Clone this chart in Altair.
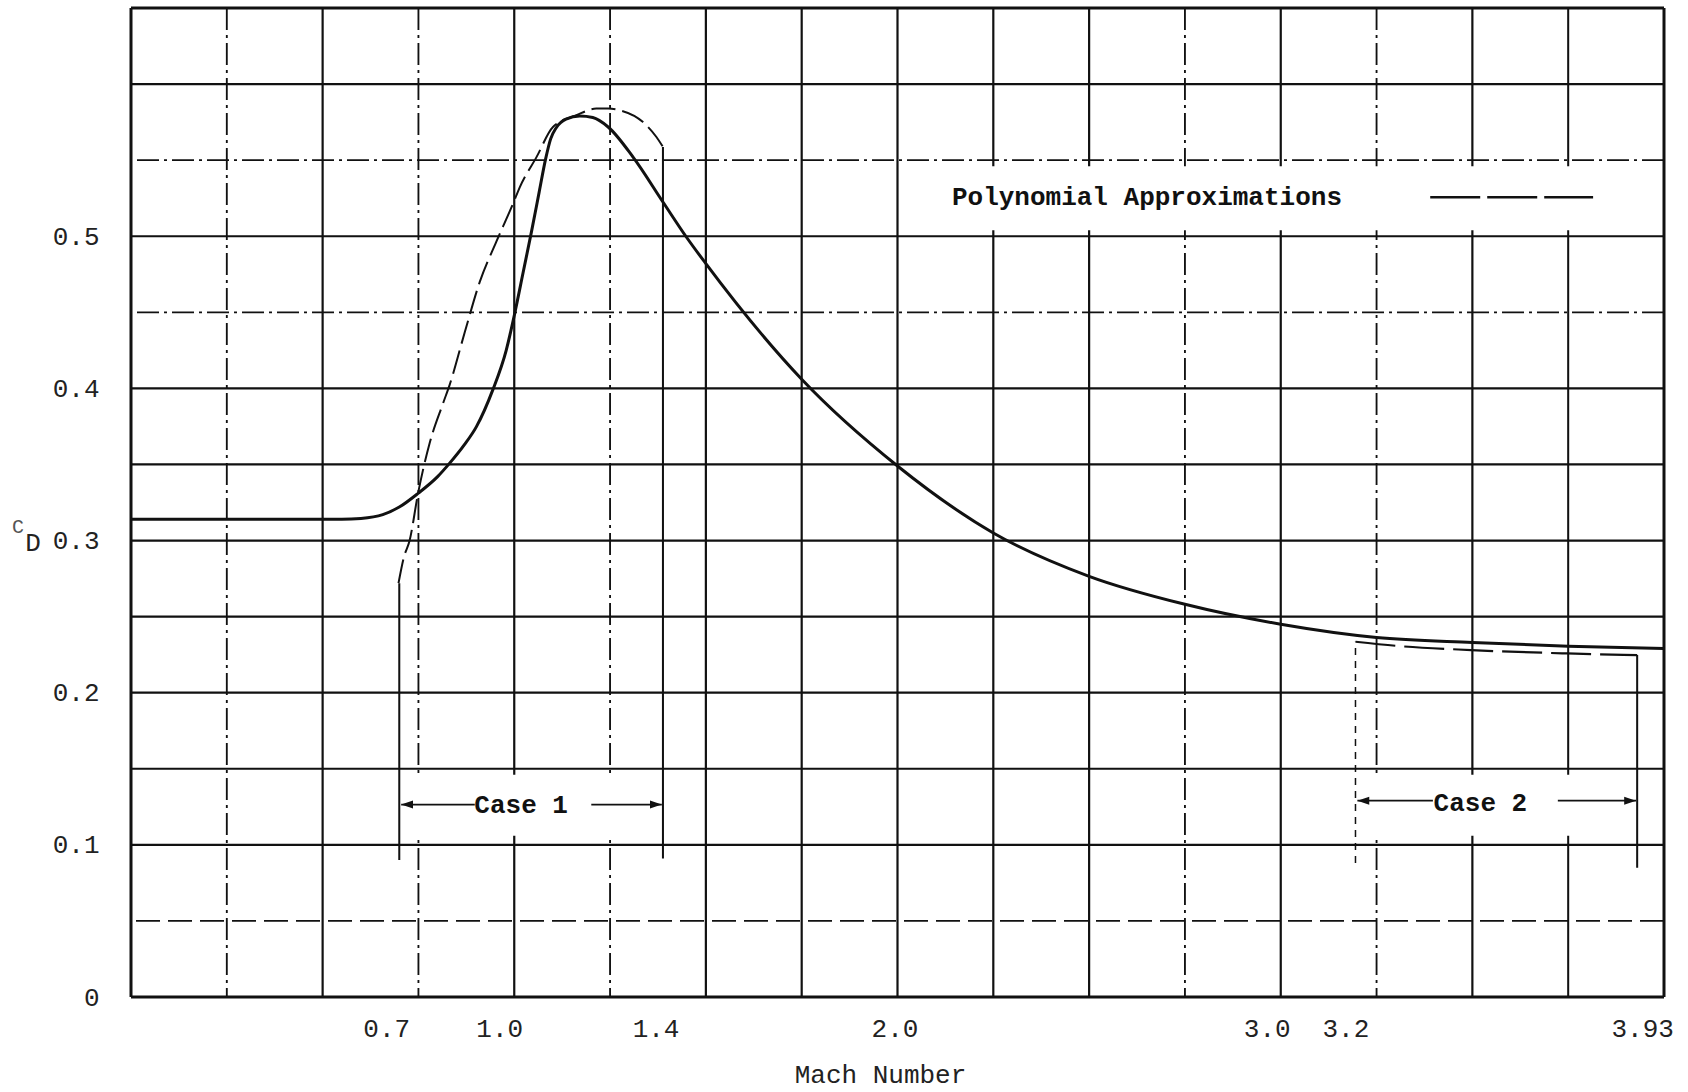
import altair as alt
import pandas as pd

# ---------------- data ----------------
# measured drag coefficient curve (solid)
mach_solid = [0.0, 0.3, 0.55, 0.6, 0.657, 0.70, 0.749, 0.80, 0.831, 0.87, 0.901, 0.944, 0.979, 1.001,
              1.023, 1.045, 1.065, 1.082, 1.095, 1.11, 1.135, 1.171, 1.205, 1.245, 1.310, 1.388, 1.449,
              1.5, 1.75, 2.0, 2.25, 2.5, 2.75, 3.0, 3.25, 3.5, 3.75, 4.0]
cd_solid = [0.314, 0.314, 0.314, 0.3145, 0.317, 0.322, 0.331, 0.342, 0.3507, 0.363, 0.3747, 0.399, 0.425,
            0.449, 0.476, 0.503, 0.529, 0.551, 0.564, 0.5715, 0.577, 0.579, 0.578, 0.5718, 0.552, 0.5225,
            0.4995, 0.482, 0.406, 0.349, 0.305, 0.2765, 0.2581, 0.245, 0.2363, 0.233, 0.2306, 0.229]

# polynomial approximations (dashed)
mach_case1 = [0.698, 0.712, 0.727, 0.749, 0.779, 0.814, 0.831, 0.871, 0.910, 0.953, 0.997, 1.014, 1.058,
              1.101, 1.162, 1.214, 1.245, 1.275, 1.336, 1.371, 1.388]
cd_case1 = [0.272, 0.289, 0.300, 0.331, 0.3638, 0.390, 0.402, 0.437, 0.470, 0.4963, 0.5215, 0.532, 0.552,
            0.5718, 0.5795, 0.5839, 0.5839, 0.5828, 0.575, 0.5652, 0.5587]
mach_case2 = [3.195, 3.31, 3.497, 3.747, 3.93]
cd_case2 = [0.2335, 0.2306, 0.228, 0.2258, 0.2247]

# axis ticks
x_tick_values = [0.7, 1.0, 1.4, 2.0, 3.0, 3.2, 3.93]
y_tick_values = [0.0, 0.1, 0.2, 0.3, 0.4, 0.5]

# grid of the graph paper
vgrid_mach = [0.25, 0.5, 0.75, 1.0, 1.25, 1.5, 1.75, 2.0, 2.25, 2.5, 2.75, 3.0, 3.25, 3.5, 3.75]
vgrid_style = ["dashdot", "solid", "dashdot", "solid", "dashdot", "solid", "solid", "solid", "solid",
               "solid", "dashdot", "solid", "dashdot", "solid", "thin"]
hgrid_cd = [0.05, 0.1, 0.15, 0.2, 0.25, 0.3, 0.35, 0.4, 0.45, 0.5, 0.55, 0.6]
hgrid_style = ["dashed", "solid", "thin", "solid", "thin", "solid", "solid", "solid", "dashdot", "solid",
               "dashdot", "solid"]
frame_mach = [0.0, 4.0]
frame_cd = [0.0, 0.65]

# case range boundaries
bound_mach = [0.7, 1.388, 3.195, 3.93]
bound_top = [0.272, 0.5587, 0.2335, 0.2247]
bound_bottom = [0.09, 0.091, 0.088, 0.085]
bound_style = ["thin", "thin", "dotted", "thin"]

# case arrows and labels
arrow_start = [0.705, 1.201, 3.2, 3.723]
arrow_end = [0.897, 1.385, 3.397, 3.927]
arrow_cd = [0.1265, 0.1265, 0.129, 0.129]
head_mach = [0.705, 1.385, 3.2, 3.927]
head_cd = [0.1265, 0.1265, 0.129, 0.129]
head_dir = ["left", "right", "left", "right"]
case_labels = ["Case 1", "Case 2"]
case_mach = [1.018, 3.521]
case_cd = [0.1265, 0.1275]

# blank (white) label areas on the paper
blank_x0 = [0.705, 3.2, 2.02]
blank_x1 = [1.383, 3.925, 3.99]
blank_y0 = [0.106, 0.106, 0.504]
blank_y1 = [0.146, 0.146, 0.546]

# legend
legend_label = ["Polynomial Approximations"]
legend_mach = [2.142]
legend_cd = [0.5256]
legend_line_x0 = [3.39]
legend_line_x1 = [3.815]

# ---------------- chart ----------------
FONT = "Liberation Mono"
INK = "#111111"

xscale = alt.Scale(domain=[0, 4], nice=False, zero=False)
yscale = alt.Scale(domain=[0, 0.65], nice=False, zero=False)

xaxis = alt.Axis(
    values=x_tick_values,
    labelExpr="datum.value == 3.93 ? '3.93' : format(datum.value, '.1f')",
    ticks=False, tickSize=0, domain=False, grid=False,
    labelPadding=31, labelBaseline="middle", labelFont=FONT, labelFontSize=26,
    labelColor="#222222", labelOverlap=False, labelFlush=False,
    labelOffset={"condition": [
        {"test": "datum.value == 0.7", "value": -13},
        {"test": "datum.value == 1.0", "value": -15},
        {"test": "datum.value == 1.4", "value": -12},
        {"test": "datum.value == 2.0", "value": -3},
        {"test": "datum.value == 3.0", "value": -14},
        {"test": "datum.value == 3.2", "value": -12},
        {"test": "datum.value == 3.93", "value": 5},
    ], "value": 0},
    title="Mach Number", titleFont=FONT, titleFontSize=26, titleFontWeight="normal",
    titleColor="#222222", titleX=749, titleY=77, titleAlign="center", titleBaseline="middle",
)
yaxis = alt.Axis(
    values=y_tick_values,
    labelExpr="datum.value == 0 ? '0' : format(datum.value, '.1f')",
    ticks=False, tickSize=0, domain=False, grid=False,
    labelPadding=32, labelBaseline="middle", labelFont=FONT, labelFontSize=26,
    labelColor="#222222", labelOverlap=False, labelFlush=False, title=None,
)

style_domain = ["solid", "thin", "dashdot", "dashed", "dotted"]
dash_scale = alt.Scale(domain=style_domain,
                       range=[[1, 0], [1, 0], [22, 5, 3, 5], [24, 8], [7, 6]])
width_scale = alt.Scale(domain=style_domain, range=[2.2, 1.5, 1.4, 1.4, 1.4])


def X(field):
    return alt.X(field, type="quantitative", scale=xscale, axis=xaxis)


def Y(field):
    return alt.Y(field, type="quantitative", scale=yscale, axis=yaxis)


vgrid = alt.Chart(pd.DataFrame({"M": vgrid_mach, "style": vgrid_style})).mark_rule(color=INK).encode(
    x=X("M"),
    strokeDash=alt.StrokeDash("style:N", scale=dash_scale, legend=None),
    strokeWidth=alt.StrokeWidth("style:N", scale=width_scale, legend=None),
)
hgrid = alt.Chart(pd.DataFrame({"Cd": hgrid_cd, "style": hgrid_style})).mark_rule(color=INK).encode(
    y=Y("Cd"),
    strokeDash=alt.StrokeDash("style:N", scale=dash_scale, legend=None),
    strokeWidth=alt.StrokeWidth("style:N", scale=width_scale, legend=None),
)

blanks = alt.Chart(pd.DataFrame({"M": blank_x0, "M2": blank_x1, "Cd": blank_y0, "Cd2": blank_y1})).mark_rect(
    color="white").encode(x=X("M"), x2="M2", y=Y("Cd"), y2="Cd2")

frame_v = alt.Chart(pd.DataFrame({"M": frame_mach})).mark_rule(color=INK, strokeWidth=3).encode(x=X("M"))
frame_h = alt.Chart(pd.DataFrame({"Cd": frame_cd})).mark_rule(color=INK, strokeWidth=3).encode(y=Y("Cd"))

bounds = alt.Chart(pd.DataFrame({"M": bound_mach, "Cd": bound_bottom, "Cd2": bound_top,
                                 "style": bound_style})).mark_rule(color=INK).encode(
    x=X("M"), y=Y("Cd"), y2="Cd2",
    strokeDash=alt.StrokeDash("style:N", scale=dash_scale, legend=None),
    strokeWidth=alt.StrokeWidth("style:N", scale=width_scale, legend=None),
)

solid = alt.Chart(pd.DataFrame({"M": mach_solid, "Cd": cd_solid})).mark_line(
    color=INK, strokeWidth=3, interpolate="monotone").encode(x=X("M"), y=Y("Cd"))

case1 = alt.Chart(pd.DataFrame({"M": mach_case1, "Cd": cd_case1})).mark_line(
    color=INK, strokeWidth=2, interpolate="monotone", strokeDash=[24, 7]).encode(x=X("M"), y=Y("Cd"))

case2 = alt.Chart(pd.DataFrame({"M": mach_case2, "Cd": cd_case2})).mark_line(
    color=INK, strokeWidth=2.2, interpolate="monotone", strokeDash=[40, 9]).encode(x=X("M"), y=Y("Cd"))

arrows = alt.Chart(pd.DataFrame({"M": arrow_start, "M2": arrow_end, "Cd": arrow_cd})).mark_rule(
    color=INK, strokeWidth=1.8).encode(x=X("M"), x2="M2", y=Y("Cd"))

heads = alt.Chart(pd.DataFrame({"M": head_mach, "Cd": head_cd, "dir": head_dir})).mark_point(
    filled=True, color=INK, opacity=1, size=560, strokeWidth=0).encode(
    x=X("M"), y=Y("Cd"),
    shape=alt.Shape("dir:N", scale=alt.Scale(domain=["left", "right"],
                                             range=["M0,0L1,-0.33L1,0.33Z", "M0,0L-1,-0.33L-1,0.33Z"]),
                    legend=None),
)

case_text = alt.Chart(pd.DataFrame({"M": case_mach, "Cd": case_cd, "label": case_labels})).mark_text(
    font=FONT, fontSize=26, fontWeight="bold", color=INK, align="center", baseline="middle").encode(
    x=X("M"), y=Y("Cd"), text="label:N")

legend_text = alt.Chart(pd.DataFrame({"M": legend_mach, "Cd": legend_cd, "label": legend_label})).mark_text(
    font=FONT, fontSize=26, fontWeight="bold", color=INK, align="left", baseline="middle").encode(
    x=X("M"), y=Y("Cd"), text="label:N")

legend_line = alt.Chart(pd.DataFrame({"M": legend_line_x0, "M2": legend_line_x1, "Cd": legend_cd})).mark_rule(
    color=INK, strokeWidth=2.4, strokeDash=[50, 7]).encode(x=X("M"), x2="M2", y=Y("Cd"))

# y-axis symbol C_D next to the 0.3 label
ytitle_c = alt.Chart(pd.DataFrame({"Cd": [0.3], "t": ["C"]})).mark_text(
    font=FONT, fontSize=20, color="#555555", align="center", baseline="middle", dy=-14).encode(
    x=alt.value(-113), y=Y("Cd"), text="t:N")
ytitle_d = alt.Chart(pd.DataFrame({"Cd": [0.3], "t": ["D"]})).mark_text(
    font=FONT, fontSize=26, color="#222222", align="center", baseline="middle", dy=2).encode(
    x=alt.value(-98), y=Y("Cd"), text="t:N")

chart = alt.layer(
    vgrid, hgrid, blanks, frame_v, frame_h, bounds, solid, case1, case2,
    arrows, heads, case_text, legend_text, legend_line, ytitle_c, ytitle_d,
).properties(
    width=1533, height=989,
    padding={"left": 131, "top": 8, "right": 24, "bottom": 95},
    autosize=alt.AutoSizeParams(type="none"),
    background="white",
).configure_view(stroke=None)

chart.save("out.html", embed_options={"renderer": "svg", "actions": False})
